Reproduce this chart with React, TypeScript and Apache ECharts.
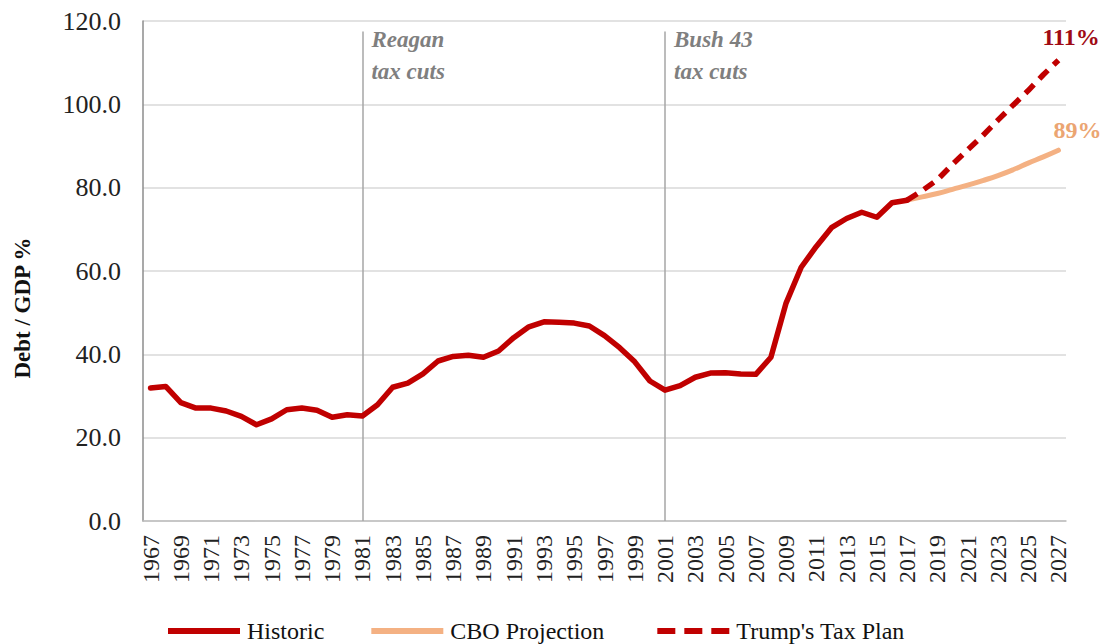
import React, { useEffect, useRef } from "react";
import * as echarts from "echarts";

const years: string[] = [];
for (let y = 1967; y <= 2027; y++) years.push(String(y));

const historicYears = [
  1967, 1968, 1969, 1970, 1971, 1972, 1973, 1974, 1975, 1976, 1977, 1978, 1979, 1980,
  1981, 1982, 1983, 1984, 1985, 1986, 1987, 1988, 1989, 1990, 1991, 1992, 1993, 1994,
  1995, 1996, 1997, 1998, 1999, 2000, 2001, 2002, 2003, 2004, 2005, 2006, 2007, 2008,
  2009, 2010, 2011, 2012, 2013, 2014, 2015, 2016, 2017,
];
const historicValues = [
  31.9, 32.3, 28.4, 27.1, 27.1, 26.4, 25.1, 23.1, 24.5, 26.7, 27.1, 26.6, 24.9, 25.5,
  25.2, 27.9, 32.1, 33.1, 35.3, 38.4, 39.5, 39.8, 39.3, 40.8, 44.0, 46.6, 47.8, 47.7,
  47.5, 46.8, 44.5, 41.6, 38.2, 33.6, 31.4, 32.5, 34.5, 35.5, 35.6, 35.3, 35.2, 39.3,
  52.3, 60.9, 65.9, 70.4, 72.6, 74.1, 72.9, 76.4, 77.0,
];

const projYears = [2017, 2018, 2019, 2020, 2021, 2022, 2023, 2024, 2025, 2026, 2027];
const cboValues = [77.0, 77.8, 78.6, 79.6, 80.6, 81.7, 82.9, 84.3, 85.9, 87.4, 89.0];
const trumpValues = [77.0, 79.3, 81.9, 85.6, 89.1, 92.5, 96.2, 99.8, 103.3, 107.1, 110.6];

const yTicks = { min: 0, max: 120, interval: 20 };
const eventYears = ["1981", "2001"];
const eventLabels = ["Reagan\ntax cuts", "Bush 43\ntax cuts"];
const eventLineTop = 117.5;
const eventLabelLevel = 111.8;
const endLabels = { cbo: "89%", trump: "111%" };

const SERIF = "'Liberation Serif', 'Times New Roman', serif";
const RED = "#C00000";
const ORANGE = "#F4B183";

function fill(ys: number[], vs: number[]) {
  return years.map((y) => {
    const i = ys.indexOf(Number(y));
    return i >= 0 ? vs[i] : null;
  });
}

const SOLID_ICON = "path://M0,0h72v6h-72z";
const DASH_ICON = "path://M0,0h18v6h-18zM27,0h18v6h-18zM54,0h18v6h-18z";

export default function App() {
  const ref = useRef<HTMLDivElement>(null);
  useEffect(() => {
    if (!ref.current) return;
    const chart = echarts.init(ref.current, null, { renderer: "svg" });
    const hist = fill(historicYears, historicValues);
    const cbo = fill(projYears, cboValues);
    const trump = fill(projYears, trumpValues);

    chart.setOption({
      animation: false,
      backgroundColor: "#ffffff",
      textStyle: { fontFamily: SERIF },
      grid: { left: 143, right: 46, top: 21, bottom: 123, containLabel: false },
      legend: {
        left: 163,
        top: 614,
        itemWidth: 72,
        itemHeight: 6,
        itemGap: 47,
        formatter: (name: string) => (name === "CBO Projection" ? name + "\u00a0" : name),
        textStyle: { fontFamily: SERIF, fontSize: 24, color: "#111", padding: [0, 0, 0, 2] },
        data: [
          { name: "Historic", icon: SOLID_ICON },
          { name: "CBO Projection", icon: SOLID_ICON },
          { name: "Trump's Tax Plan", icon: DASH_ICON },
        ],
      },
      graphic: [
        {
          type: "text",
          x: 22,
          y: 308,
          rotation: Math.PI / 2,
          style: {
            text: "Debt / GDP %",
            fontFamily: SERIF,
            fontWeight: "bold",
            fontSize: 23,
            fill: "#111",
            align: "center",
            verticalAlign: "middle",
          },
        },
      ],
      xAxis: {
        type: "category",
        data: years,
        boundaryGap: true,
        axisTick: { show: false },
        axisLine: { lineStyle: { color: "#BFBFBF", width: 1.5 } },
        axisLabel: {
          interval: 1,
          rotate: 90,
          fontFamily: SERIF,
          fontSize: 24,
          color: "#222",
          margin: 14,
        },
        splitLine: { show: false },
      },
      yAxis: {
        type: "value",
        min: yTicks.min,
        max: yTicks.max,
        interval: yTicks.interval,
        axisLine: { show: true, lineStyle: { color: "#8C8C8C", width: 1.5 } },
        axisTick: { show: false },
        axisLabel: {
          formatter: (v: number) => v.toFixed(1),
          fontFamily: SERIF,
          fontSize: 26,
          color: "#222",
          margin: 22,
        },
        splitLine: { lineStyle: { color: "#D9D9D9", width: 1.5 } },
      },
      series: [
        {
          name: "CBO Projection",
          type: "line",
          data: cbo,
          symbol: "none",
          smooth: true,
          color: ORANGE,
          lineStyle: { color: ORANGE, width: 5, cap: "round" },
          endLabel: {
            show: true,
            formatter: endLabels.cbo,
            distance: 0,
            offset: [-5, -20],
            fontFamily: SERIF,
            fontWeight: "bold",
            fontSize: 24,
            color: "#EBA572",
          },
          z: 2,
        },
        {
          name: "Trump's Tax Plan",
          type: "line",
          data: trump,
          symbol: "none",
          color: RED,
          lineStyle: { color: RED, width: 5.5, type: [12, 8], cap: "butt" },
          endLabel: {
            show: true,
            formatter: endLabels.trump,
            distance: 0,
            offset: [-16, -23],
            fontFamily: SERIF,
            fontWeight: "bold",
            fontSize: 24,
            color: "#A00A14",
          },
          z: 3,
        },
        {
          name: "Historic",
          type: "line",
          data: hist,
          symbol: "none",
          color: RED,
          lineStyle: { color: RED, width: 5.5, join: "round", cap: "round" },
          z: 4,
          markLine: {
            silent: true,
            symbol: ["none", "none"],
            label: { show: false },
            lineStyle: { color: "#A6A6A6", width: 1.5, type: "solid" },
            data: eventYears.map((y) => [
              { coord: [y, eventLineTop] },
              { coord: [y, 0] },
            ]),
            z: 1,
          },
          markPoint: {
            silent: true,
            symbol: "circle",
            symbolSize: 0,
            data: eventYears.map((y, i) => ({
              coord: [y, eventLabelLevel],
              label: {
                show: true,
                position: "right",
                distance: 9,
                formatter: eventLabels[i],
                align: "left",
                fontFamily: SERIF,
                fontStyle: "italic",
                fontWeight: "bold",
                fontSize: 23,
                lineHeight: 32,
                color: "#7F7F7F",
              },
            })),
          },
        },
      ],
    });
    return () => chart.dispose();
  }, []);
  return (
    <div
      ref={ref}
      style={{ position: "fixed", left: 0, top: 0, width: 1112, height: 644, background: "#fff" }}
    />
  );
}
